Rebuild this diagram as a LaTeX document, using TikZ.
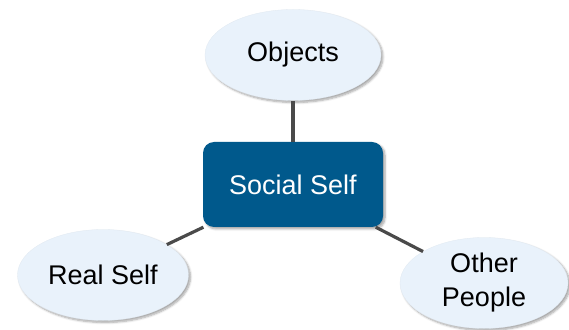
\documentclass[tikz,border=0pt]{standalone}
\usepackage{fontspec}
\setmainfont{Liberation Sans}
\usetikzlibrary{shapes.geometric,shadows.blur}

\definecolor{bubblefill}{HTML}{E9F2FB}
\definecolor{selfblue}{HTML}{00598C}
\definecolor{linkgrey}{HTML}{4A4A4A}

\tikzset{
  bubble/.style={ellipse, fill=bubblefill, draw=bubblefill!92!gray, line width=0.3pt,
    minimum width=172pt, minimum height=91pt, inner sep=0pt, align=center,
    font=\fontsize{27}{34}\selectfont,
    blur shadow={shadow xshift=2pt, shadow yshift=-2pt, shadow blur steps=6, shadow opacity=35}},
  centerbox/.style={rectangle, rounded corners=11pt, fill=selfblue, text=white,
    minimum width=180pt, minimum height=85pt, inner sep=0pt,
    font=\fontsize{27}{32}\selectfont,
    blur shadow={shadow xshift=2pt, shadow yshift=-2pt, shadow blur steps=6, shadow opacity=35}},
  link/.style={draw=linkgrey, line width=3.2pt}
}

\begin{document}
\begin{tikzpicture}[x=1pt,y=1pt]
  \useasboundingbox (0,0) rectangle (569,329);

  \node[bubble, minimum width=176pt] (objects) at (293,274) {Objects};
  \node[centerbox] (social) at (293,144.5) {Social Self};
  \node[bubble, minimum width=171pt] (real) at (103,54) {Real Self};
  \node[bubble, minimum width=168pt] (other) at (484,46) {Other\\People};

  \draw[link] (social) -- (objects);
  \draw[link] (social) -- (real);
  \draw[link] (social) -- (other);
\end{tikzpicture}
\end{document}
